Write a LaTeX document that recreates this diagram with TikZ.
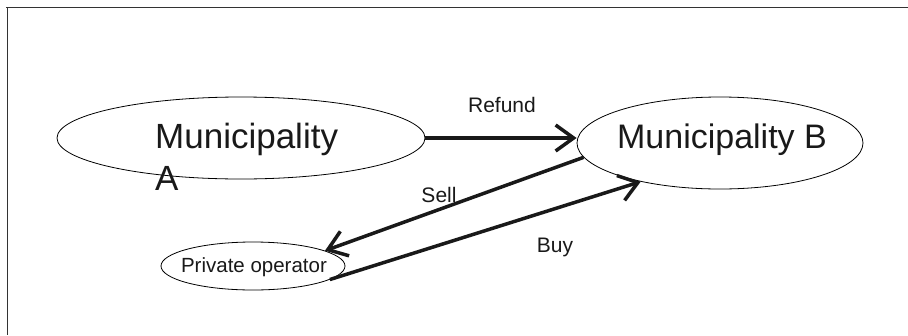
\documentclass[tikz,border=0pt]{standalone}
\usepackage{fontspec}
\setmainfont{Liberation Sans}
\usetikzlibrary{shapes.geometric,arrows.meta}

\tikzset{
  party/.style={draw=black, line width=0.8pt, ellipse, inner sep=0pt},
  flow/.style={line width=3.5pt, black!90,
    -{Straight Barb[length=18pt,width=26pt,line width=3.5pt]}},
  flowlabel/.style={font=\fontsize{21}{25}\selectfont, anchor=base, inner sep=0pt, text=black!90},
  frame/.style={line width=1pt, black!80}
}

\begin{document}
\begin{tikzpicture}[x=1pt, y=-1pt]
  \useasboundingbox (0,0) rectangle (908,335);

  % open frame: top and left edges only
  \draw[frame] (6,7) -- (908,7);
  \draw[frame] (7,7) -- (7,335);

  % the three parties
  \node[party, minimum width=368pt, minimum height=82pt] (munA) at (241,138) {};
  \node[party, minimum width=286pt, minimum height=92pt] (munB) at (720,143) {};
  \node[party, minimum width=184pt, minimum height=48pt] (po) at (253,266) {};

  % their names
  \node[anchor=base west, inner sep=0pt, text=black!90] (munAtext) at (155,148)
    {\fontsize{35}{42}\selectfont\begin{tabular}[t]{@{}l@{}}Municipality\\A\end{tabular}};
  \node[anchor=base, inner sep=0pt, text=black!90, font=\fontsize{34}{40}\selectfont]
    (munBtext) at (722,148) {Municipality B};
  \node[anchor=base, inner sep=0pt, text=black!90, font=\fontsize{20.5}{24}\selectfont]
    (potext) at (254,272) {Private operator};

  % flows between the parties
  \draw[flow] (munA.east) -- (munB.west |- munA.east);
  \draw[flow] (munB.186) -- (po.12);
  \draw[flow] (po.-10) -- (munB.206);

  % flow labels
  \node[flowlabel] (refund) at (502,112) {Refund};
  \node[flowlabel] (sell) at (439,202) {Sell};
  \node[flowlabel] (buy) at (555,252) {Buy};
\end{tikzpicture}
\end{document}
